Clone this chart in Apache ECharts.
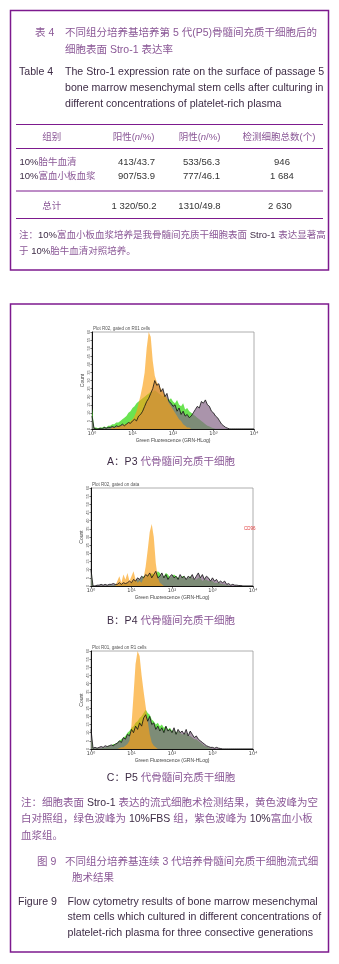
<!DOCTYPE html>
<html>
<head>
<meta charset="utf-8">
<script src="https://cdn.jsdelivr.net/npm/echarts@6/dist/echarts.min.js"></script>
<style>
  html, body { margin: 0; padding: 0; background: #fff; }
  #main { width: 339px; height: 964px; }
</style>
</head>
<body>
<div id="main"></div>
<script>
// histogram bins: 0.05 decade each, from 10^0 to 10^4 (81 bins)
const BIN = 0.05
const decadeTicks = ['10\u2070', '10\u00b9', '10\u00b2', '10\u00b3', '10\u2074']

// P3 (plot A)
const aGreen = [
  13, 1, 1, 0.5, 1, 1, 1.5, 1, 2, 2,
  3, 3, 4, 4, 5, 6, 7, 8, 10, 11,
  13, 14, 16, 17, 18, 19, 20, 21, 22, 23,
  23, 24, 23, 22, 21, 20, 21, 19, 18, 19,
  17, 16, 18, 15, 14, 16, 12, 13, 11, 10,
  9, 8, 7, 6, 5, 4, 3, 2, 1.5, 1,
  0.5, 0, 0, 0, 0, 0, 0, 0, 0, 0,
  0, 0, 0, 0, 0, 0, 0, 0, 0, 0, 0
]
const aPurple = [
  8, 0.5, 0, 0, 0.5, 0, 1, 0.5, 1, 1,
  1.5, 1, 2, 1.5, 2, 3, 2, 3, 4, 3.5,
  5, 6, 5, 8, 9, 11, 14, 17, 19, 22,
  25, 30, 27, 28, 23, 25, 20, 22, 17, 16,
  14, 15, 11, 13, 9, 11, 8, 9, 7, 8,
  10, 12, 14, 13, 17, 16, 18, 15, 14, 11,
  10, 8, 7, 5, 3, 2, 1, 0.5, 0, 0,
  0, 0, 0, 0, 0, 0, 0, 0, 0, 0, 0
]
const aYellow = [
  0, 0, 0, 0, 0, 0, 0, 0, 0, 0,
  1, 1, 1, 2, 2, 2, 3, 3, 4, 5,
  6, 8, 11, 16, 21, 27, 35, 50, 60, 57,
  42, 33, 29, 27, 25, 23, 21, 19, 16, 14,
  12, 10, 8, 6, 5, 3, 2, 1, 1, 0,
  0, 0, 0, 0, 0, 0, 0, 0, 0, 0,
  0, 0, 0, 0, 0, 0, 0, 0, 0, 0,
  0, 0, 0, 0, 0, 0, 0, 0, 0, 0, 0
]

// P4 (plot B)
const bGreen = [
  8, 0, 0, 0, 0, 0.5, 0, 0.5, 0, 0.5,
  0.5, 0.5, 1, 0.5, 1, 1, 1.5, 1, 2, 1.5,
  2, 3, 3, 4, 4, 5, 6, 5, 7, 6,
  8, 7, 7, 9, 8, 6, 6, 8, 7, 5,
  6, 7, 6, 5, 5, 6, 6, 4, 5, 6,
  5, 4, 4, 5, 5, 3, 4, 4, 3, 3,
  3, 2, 2, 2, 1.5, 1, 1, 0.5, 0.5, 0,
  0, 0, 0, 0, 0, 0, 0, 0, 0, 0, 0
]
const bPurple = [
  10, 0, 0, 0.5, 0.5, 1, 0.5, 1, 0.5, 1,
  1, 1.5, 1, 1, 2, 1, 2, 1.5, 2, 3,
  2, 4, 3, 5, 4, 6, 5, 7, 6, 8,
  5, 7, 9, 5, 6, 8, 5, 7, 4, 6,
  7, 5, 6, 4, 7, 5, 6, 4, 6, 5,
  7, 4, 6, 8, 5, 7, 4, 6, 5, 3,
  5, 3, 4, 2, 3, 2, 3, 1, 1.5, 0.5,
  1, 0.5, 0.5, 0.3, 0.3, 0, 0, 0, 0, 0, 0
]
const bYellow = [
  0, 0, 0, 0, 0, 0, 0, 0, 0, 0,
  0, 0, 0, 3, 6, 2, 7, 4, 8, 3,
  6, 9, 4, 2, 3, 2, 5, 12, 22, 33,
  38, 30, 14, 5, 2, 1, 0, 0, 0, 0,
  0, 0, 0, 0, 0, 0, 0, 0, 0, 0,
  0, 0, 0, 0, 0, 0, 0, 0, 0, 0,
  0, 0, 0, 0, 0, 0, 0, 0, 0, 0,
  0, 0, 0, 0, 0, 0, 0, 0, 0, 0, 0
]

// P5 (plot C)
const cGreen = [
  8, 0.5, 0.5, 0.5, 0.5, 0.5, 1, 1, 1.5, 2,
  2, 3, 3, 4, 5, 6, 7, 8, 10, 11,
  13, 14, 16, 17, 19, 20, 22, 24, 22, 21,
  18, 17, 15, 16, 14, 15, 13, 14, 12, 13,
  11, 12, 10, 11, 10, 9, 9, 10, 8, 8,
  7, 6, 6, 5, 4, 3, 2, 1.5, 1, 0.5,
  0, 0, 0, 0, 0, 0, 0, 0, 0, 0,
  0, 0, 0, 0, 0, 0, 0, 0, 0, 0, 0
]
const cPurple = [
  12, 0.5, 1, 0.5, 1, 1.5, 1, 2, 1.5, 2,
  2.5, 2, 3, 3.5, 5, 4, 7, 6, 9, 8,
  12, 10, 14, 12, 16, 14, 19, 21, 17, 20,
  15, 16, 12, 14, 11, 13, 10, 14, 11, 12,
  10, 13, 9, 12, 10, 11, 9, 12, 8, 11,
  9, 7, 8, 6, 5, 4, 3, 2, 1.5, 1,
  1, 0.5, 1, 0.5, 0.3, 0, 0, 0, 0, 0,
  0, 0, 0, 0, 0, 0, 0, 0, 0, 0, 0
]
const cYellow = [
  0, 0, 0, 0, 0, 0, 0, 0, 0, 0,
  0, 0, 0, 0, 0.5, 1, 1, 2, 3, 5,
  15, 33, 52, 60, 57, 45, 35, 26, 17, 9,
  4, 2, 1, 0, 0, 0, 0, 0, 0, 0,
  0, 0, 0, 0, 0, 0, 0, 0, 0, 0,
  0, 0, 0, 0, 0, 0, 0, 0, 0, 0,
  0, 0, 0, 0, 0, 0, 0, 0, 0, 0,
  0, 0, 0, 0, 0, 0, 0, 0, 0, 0, 0
]

// table 4
const tableHead = ['组别', '阳性({i|n}/%)', '阴性({i|n}/%)', '检测细胞总数(个)']
const groups = ['{d|10%}胎牛血清', '{d|10%}富血小板血浆']
const positive = ['413/43.7', '907/53.9']
const negative = ['533/56.3', '777/46.1']
const totals = ['946', '1 684']
const sumRow = ['总计', '1 320/50.2', '1310/49.8', '2 630']

const plotTitles = ['Plot R02, gated on R01 cells', 'Plot R02, gated on data', 'Plot R01, gated on R1 cells']
const captions = ['{d|A：P3} 代骨髓间充质干细胞', '{d|B：P4} 代骨髓间充质干细胞', '{d|C：P5} 代骨髓间充质干细胞']

const PURPLE_LINE = '#7d1a8e'
const CN_COLOR = '#8a5796'
const DARK = '#3e2c46'
const FONT = "'Liberation Sans', 'Noto Sans CJK SC', sans-serif"

const chart = echarts.init(document.getElementById('main'))

function pts(counts) {
  return counts.map((c, i) => [+(i * BIN).toFixed(2), c])
}

function txt(x, y, text, size, color, align) {
  return {
    type: 'text', x: x, y: y, silent: true,
    style: {
      text: text, font: size + 'px ' + FONT, fill: color,
      align: align || 'left', verticalAlign: 'middle',
      rich: {
        d: { fill: DARK, font: size + 'px ' + FONT },
        p: { fill: CN_COLOR, font: size + 'px ' + FONT },
        i: { fill: CN_COLOR, font: 'italic ' + size + 'px ' + FONT }
      }
    }
  }
}

function hline(x1, x2, y, color, w) {
  return { type: 'line', silent: true, shape: { x1: x1, y1: y, x2: x2, y2: y }, style: { stroke: color, lineWidth: w } }
}

// 三个流式直方图的位置
const grids = [
  { left: 92, top: 332, width: 162, height: 97 },
  { left: 91, top: 488, width: 162, height: 98 },
  { left: 91, top: 651, width: 162, height: 98 }
]
const hist = [
  [aGreen, aPurple, aYellow],
  [bGreen, bPurple, bYellow],
  [cGreen, cPurple, cYellow]
]

const xAxes = [], yAxes = [], series = []
grids.forEach((g, k) => {
  xAxes.push({
    gridIndex: k, type: 'value', min: 0, max: 4, interval: 1,
    name: 'Green Fluorescence (GRN-HLog)', nameLocation: 'middle', nameGap: 9,
    nameTextStyle: { fontSize: 5, color: '#444', fontFamily: 'Liberation Sans' },
    axisLine: { lineStyle: { color: '#111', width: 1 } },
    axisTick: { length: 2, lineStyle: { color: '#111', width: 0.6 } },
    axisLabel: { fontSize: 5, margin: 2, color: '#444', fontFamily: 'DejaVu Sans', formatter: v => decadeTicks[v] },
    splitLine: { show: false }
  })
  yAxes.push({
    gridIndex: k, type: 'value', min: 0, max: 60, interval: 5,
    name: 'Count', nameLocation: 'middle', nameGap: 7, nameRotate: 90,
    nameTextStyle: { fontSize: 5, color: '#444', fontFamily: 'Liberation Sans' },
    axisLine: { show: true, lineStyle: { color: '#111', width: 1 } },
    axisTick: { show: true, length: 1.5, lineStyle: { color: '#111', width: 0.6 } },
    axisLabel: { fontSize: 4, margin: 1.5, color: '#555', rotate: 90, fontFamily: 'Liberation Sans' },
    splitLine: { show: false }
  })
  const [green, purple, yellow] = hist[k]
  const base = { type: 'line', xAxisIndex: k, yAxisIndex: k, symbol: 'none', silent: true, animation: false }
  series.push(Object.assign({}, base, {
    name: '10%FBS', data: pts(green), z: 2,
    lineStyle: { width: 0 }, areaStyle: { color: 'rgba(80, 222, 50, 0.85)', opacity: 1 }
  }))
  series.push(Object.assign({}, base, {
    name: '10%PRP', data: pts(purple), z: 3,
    lineStyle: { width: 0 }, areaStyle: { color: 'rgba(134, 102, 136, 0.7)', opacity: 1 }
  }))
  series.push(Object.assign({}, base, {
    name: '空白对照', data: pts(yellow), z: 4,
    lineStyle: { width: 0 }, areaStyle: { color: 'rgba(250, 160, 20, 0.65)', opacity: 1 }
  }))
  series.push(Object.assign({}, base, {
    name: '10%PRP轮廓', data: pts(purple), z: 5,
    lineStyle: { width: 0.8, color: '#111' }
  }))
})

const graphics = [
  // 两个外框
  { type: 'rect', silent: true, shape: { x: 10.5, y: 10.5, width: 318, height: 259.5 }, style: { fill: 'none', stroke: PURPLE_LINE, lineWidth: 1.5 } },
  { type: 'rect', silent: true, shape: { x: 10.5, y: 304, width: 318, height: 648 }, style: { fill: 'none', stroke: PURPLE_LINE, lineWidth: 1.5 } },
  // 表 4 标题
  txt(35, 33, '表 4', 10.5, CN_COLOR),
  txt(65, 33, '不同组分培养基培养第 5 代(P5)骨髓间充质干细胞后的', 10.5, CN_COLOR),
  txt(65, 50, '细胞表面 Stro-1 表达率', 10.5, CN_COLOR),
  txt(19, 72, 'Table 4', 10.6, DARK),
  txt(65, 72, 'The Stro-1 expression rate on the surface of passage 5', 10.6, DARK),
  txt(65, 88, 'bone marrow mesenchymal stem cells after culturing in', 10.6, DARK),
  txt(65, 104, 'different concentrations of platelet-rich plasma', 10.6, DARK),
  // 表格线
  hline(16, 323, 124.5, PURPLE_LINE, 1.2),
  hline(16, 323, 148.5, PURPLE_LINE, 1),
  hline(16, 323, 191, PURPLE_LINE, 1),
  hline(16, 323, 218.5, PURPLE_LINE, 1.2),
  // 表注
  txt(19, 235, '注：{d|10%}富血小板血浆培养是我骨髓间充质干细胞表面 {d|Stro-1} 表达显著高', 9.5, CN_COLOR),
  txt(19, 251, '于 {d|10%}胎牛血清对照培养。', 9.5, CN_COLOR),
  // 图注
  txt(21, 803, '注：细胞表面 {d|Stro-1} 表达的流式细胞术检测结果，黄色波峰为空', 10.5, CN_COLOR),
  txt(21, 819.5, '白对照组，绿色波峰为 {d|10%FBS} 组，紫色波峰为 {d|10%}富血小板', 10.5, CN_COLOR),
  txt(21, 836, '血浆组。', 10.5, CN_COLOR),
  txt(37, 862, '图 9', 10.5, CN_COLOR),
  txt(65, 862, '不同组分培养基连续 3 代培养骨髓间充质干细胞流式细', 10.5, CN_COLOR),
  txt(72, 878.5, '胞术结果', 10.5, CN_COLOR),
  txt(18, 902, 'Figure 9', 10.6, DARK),
  txt(67.5, 902, 'Flow cytometry results of bone marrow mesenchymal', 10.6, DARK),
  txt(67.5, 917, 'stem cells which cultured in different concentrations of', 10.6, DARK),
  txt(67.5, 933, 'platelet-rich plasma for three consective generations', 10.6, DARK),
  // 图 B 右侧红色标记
  txt(244, 529, 'CD96', 4.5, '#e03a3a')
]

// 表头与数据
const colX = [51.7, 133.5, 199.5, 279]
tableHead.forEach((h, j) => graphics.push(txt(colX[j], 137.5, h, 9.5, CN_COLOR, 'center')))
const rowY = [162.5, 176.5]
groups.forEach((gname, r) => {
  graphics.push(txt(19.5, rowY[r], gname, 9.5, CN_COLOR))
  graphics.push(txt(136.5, rowY[r], positive[r], 9.5, '#333', 'center'))
  graphics.push(txt(201.5, rowY[r], negative[r], 9.5, '#333', 'center'))
  graphics.push(txt(282, rowY[r], totals[r], 9.5, '#333', 'center'))
})
sumRow.forEach((v, j) => graphics.push(txt([51.7, 134, 199.5, 280][j], 206.5, v, 9.5, j === 0 ? CN_COLOR : '#333', 'center')))

// 直方图标题与小图注
grids.forEach((g, k) => {
  graphics.push(txt(g.left + 1, g.top - 3, plotTitles[k], 4.5, '#555'))
})
;[462, 621, 778].forEach((y, k) => graphics.push(txt(171, y, captions[k], 10.5, CN_COLOR, 'center')))

chart.setOption({
  backgroundColor: '#fff',
  animation: false,
  grid: grids.map(g => Object.assign({ show: true, borderColor: '#999', borderWidth: 0.8, backgroundColor: 'transparent' }, g)),
  xAxis: xAxes,
  yAxis: yAxes,
  series: series,
  graphic: graphics
})
</script>
</body>
</html>
